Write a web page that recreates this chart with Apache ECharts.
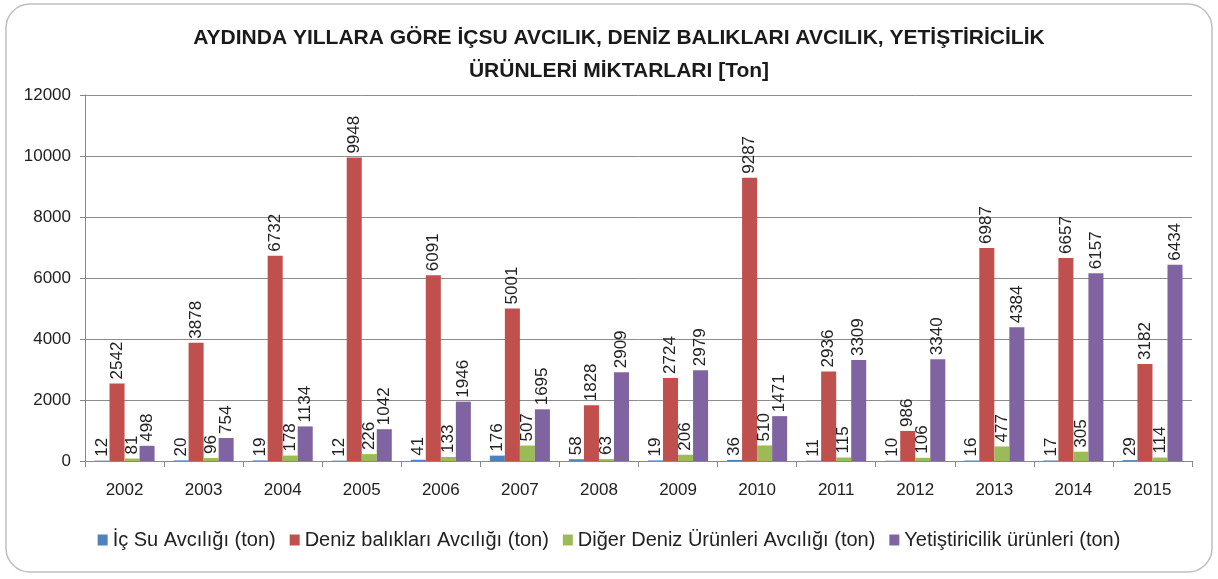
<!DOCTYPE html>
<html>
<head>
<meta charset="utf-8">
<script src="https://cdn.jsdelivr.net/npm/echarts@6/dist/echarts.min.js"></script>
<style>
  html, body { margin: 0; padding: 0; background: #fff; }
  #chart { width: 1218px; height: 579px; }
</style>
</head>
<body>
<div id="chart"></div>
<script>
  const years = ['2002', '2003', '2004', '2005', '2006', '2007', '2008', '2009', '2010', '2011', '2012', '2013', '2014', '2015']
  const icSu = [12, 20, 19, 12, 41, 176, 58, 19, 36, 11, 10, 16, 17, 29]
  const denizBalik = [2542, 3878, 6732, 9948, 6091, 5001, 1828, 2724, 9287, 2936, 986, 6987, 6657, 3182]
  const digerDeniz = [81, 96, 178, 226, 133, 507, 63, 206, 510, 115, 106, 477, 305, 114]
  const yetistiricilik = [498, 754, 1134, 1042, 1946, 1695, 2909, 2979, 1471, 3309, 3340, 4384, 6157, 6434]
  const yTicks = [0, 2000, 4000, 6000, 8000, 10000, 12000]

  const font = 'Liberation Sans, Arial, sans-serif'

  const chart = echarts.init(document.getElementById('chart'))

  const barLabel = {
    show: true,
    position: 'top',
    rotate: 90,
    align: 'left',
    verticalAlign: 'middle',
    distance: 4,
    color: '#222',
    fontSize: 17,
    fontFamily: font
  }

  const mkSeries = (name, data, color) => ({
    name: name,
    type: 'bar',
    data: data,
    barGap: '0%',
    barCategoryGap: '24%',
    itemStyle: { color: color },
    label: barLabel
  })

  chart.setOption({
    animation: false,
    backgroundColor: '#fff',
    graphic: [{
      type: 'rect',
      shape: { x: 6, y: 4, width: 1206, height: 568, r: 24 },
      style: { fill: 'none', stroke: '#bfbfbf', lineWidth: 1.5 },
      z: -10
    }],
    title: {
      text: 'AYDINDA YILLARA GÖRE İÇSU AVCILIK, DENİZ BALIKLARI AVCILIK, YETİŞTİRİCİLİK\nÜRÜNLERİ MİKTARLARI [Ton]',
      left: 614,
      textAlign: 'center',
      top: 17,
      textStyle: {
        fontFamily: font,
        fontSize: 21,
        fontWeight: 'bold',
        color: '#1a1a1a',
        lineHeight: 33
      }
    },
    legend: {
      top: 525,
      left: 'center',
      itemWidth: 10,
      itemHeight: 11,
      itemGap: 14,
      icon: 'rect',
      textStyle: { fontFamily: font, fontSize: 20, color: '#222' },
      data: ['İç Su Avcılığı (ton)', 'Deniz balıkları Avcılığı (ton)', 'Diğer Deniz Ürünleri Avcılığı (ton)', 'Yetiştiricilik ürünleri (ton)']
    },
    grid: { left: 85, right: 26, top: 95, bottom: 118 },
    xAxis: {
      type: 'category',
      data: years,
      axisLine: { lineStyle: { color: '#888' } },
      axisTick: { show: true, length: 6, lineStyle: { color: '#888' } },
      axisLabel: { color: '#222', fontSize: 17, fontFamily: font, margin: 21 }
    },
    yAxis: {
      type: 'value',
      min: yTicks[0],
      max: yTicks[yTicks.length - 1],
      interval: 2000,
      axisLine: { show: true, lineStyle: { color: '#888' } },
      axisTick: { show: true, length: 5, lineStyle: { color: '#888' } },
      axisLabel: { color: '#222', fontSize: 17, fontFamily: font, margin: 14, formatter: v => String(v) },
      splitLine: { lineStyle: { color: '#8c8c8c', width: 1 } }
    },
    series: [
      mkSeries('İç Su Avcılığı (ton)', icSu, '#4F81BD'),
      mkSeries('Deniz balıkları Avcılığı (ton)', denizBalik, '#C0504D'),
      mkSeries('Diğer Deniz Ürünleri Avcılığı (ton)', digerDeniz, '#9BBB59'),
      mkSeries('Yetiştiricilik ürünleri (ton)', yetistiricilik, '#8064A2')
    ]
  })
</script>
</body>
</html>
